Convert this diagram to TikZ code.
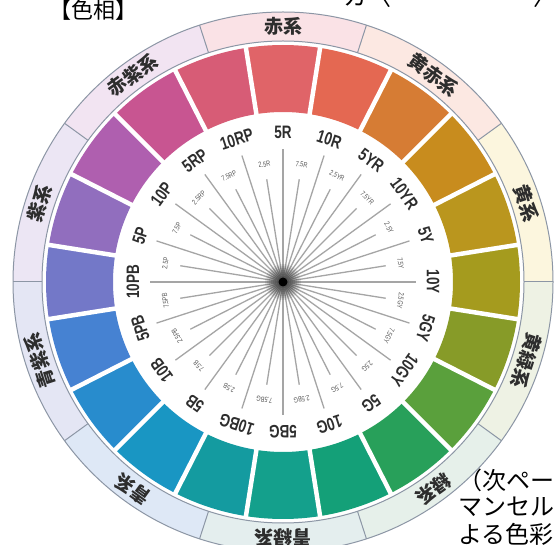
\documentclass[tikz,border=0pt]{standalone}
\usepackage{fontspec}
\setmainfont{Liberation Sans}
\newfontfamily\lblfont[FakeStretch=0.75]{Liberation Sans}
\newfontfamily\jpfont{Noto Sans CJK JP}
\definecolor{rR}{RGB}{250,226,230}
\definecolor{rYR}{RGB}{252,232,226}
\definecolor{rY}{RGB}{252,246,222}
\definecolor{rGY}{RGB}{238,242,228}
\definecolor{rG}{RGB}{230,240,234}
\definecolor{rBG}{RGB}{228,238,238}
\definecolor{rB}{RGB}{222,232,246}
\definecolor{rPB}{RGB}{228,230,244}
\definecolor{rP}{RGB}{236,230,244}
\definecolor{rRP}{RGB}{242,228,242}
\definecolor{c0}{RGB}{224,100,104}
\definecolor{c1}{RGB}{228,104,82}
\definecolor{c2}{RGB}{214,124,52}
\definecolor{c3}{RGB}{200,140,30}
\definecolor{c4}{RGB}{186,150,30}
\definecolor{c5}{RGB}{165,155,30}
\definecolor{c6}{RGB}{135,155,40}
\definecolor{c7}{RGB}{90,160,60}
\definecolor{c8}{RGB}{40,160,90}
\definecolor{c9}{RGB}{20,160,120}
\definecolor{c10}{RGB}{20,160,140}
\definecolor{c11}{RGB}{20,155,160}
\definecolor{c12}{RGB}{25,150,195}
\definecolor{c13}{RGB}{40,140,205}
\definecolor{c14}{RGB}{70,130,210}
\definecolor{c15}{RGB}{115,120,200}
\definecolor{c16}{RGB}{145,110,190}
\definecolor{c17}{RGB}{175,95,175}
\definecolor{c18}{RGB}{200,85,145}
\definecolor{c19}{RGB}{215,92,118}
\definecolor{ringedge}{RGB}{140,150,165}
\definecolor{spoke}{RGB}{165,165,165}
\definecolor{lbl}{RGB}{45,45,45}
\tikzset{
  ringline/.style={draw=ringedge, line width=1pt},
  gapline/.style={draw=white, line width=4.5pt},
  spokeline/.style={draw=spoke, line width=1.3pt},
  biglbl/.style={font=\lblfont\bfseries\fontsize{18}{18}\selectfont, text=lbl, inner sep=0pt},
  smalllbl/.style={font=\lblfont\fontsize{7.5}{7.5}\selectfont, text=lbl!80, inner sep=0pt},
  ringlbl/.style={font=\jpfont\bfseries\fontsize{19}{19}\selectfont, text=lbl, inner sep=0pt},
  jptext/.style={font=\jpfont\fontsize{24}{24}\selectfont, text=black, inner sep=0pt},
  jpline/.style={jptext, anchor=west}
}
\begin{document}
\begin{tikzpicture}[x=1pt,y=1pt]
\useasboundingbox (0,0) rectangle (560,544);
\fill[white] (0,0) rectangle (560,544);
\begin{scope}[shift={(283,262)}]
  % outer hue-family ring
  \foreach \j/\col in {0/rR,1/rYR,2/rY,3/rGY,4/rG,5/rBG,6/rB,7/rPB,8/rP,9/rRP} {
    \pgfmathsetmacro\a{90-36*\j}
    \fill[\col] (\a+18:241) arc[start angle=\a+18, end angle=\a-18, radius=241]
      -- (\a-18:270) arc[start angle=\a-18, end angle=\a+18, radius=270] -- cycle;
  }
  \foreach \j in {0,...,9} {
    \pgfmathsetmacro\a{90-36*\j}
    \draw[ringline] (\a+18:241) -- (\a+18:270);
  }
  \draw[ringline] (0,0) circle (270);
  \draw[ringline] (0,0) circle (241);
  % colour swatches
  \foreach \k in {0,...,19} {
    \pgfmathsetmacro\a{90-18*\k}
    \fill[c\k] (\a+9:170) arc[start angle=\a+9, end angle=\a-9, radius=170]
      -- (\a-9:237) arc[start angle=\a-9, end angle=\a+9, radius=237] -- cycle;
  }
  \foreach \k in {0,...,19} {
    \pgfmathsetmacro\a{90-18*\k+9}
    \draw[gapline] (\a:160) -- (\a:239);
  }
  % spokes
  \foreach \k in {0,...,19} {
    \pgfmathsetmacro\a{90-18*\k}
    \draw[spokeline] (0,0) -- (\a:133);
    \draw[spokeline] (0,0) -- (\a-9:104);
  }
  % centre dot
  \foreach \r in {18,16,...,6} { \fill[black, opacity=0.09] (0,0) circle (\r); }
  \fill[black] (0,0) circle (4.5);
  % ring labels
  \foreach \j/\txt in {0/赤系,1/黄赤系,2/黄系,3/黄緑系,4/緑系,5/青緑系,6/青系,7/青紫系,8/紫系,9/赤紫系} {
    \node[ringlbl, rotate={-36*\j}] (ring\j) at ({90-36*\j}:256) {\txt};
  }
  % hue labels
  \foreach \k/\txt in {0/5R,1/10R,2/5YR,3/10YR,4/5Y,5/10Y,6/5GY,7/10GY,8/5G,9/10G,10/5BG,11/10BG,12/5B,13/10B,14/5PB,15/10PB,16/5P,17/10P,18/5RP,19/10RP} {
    \node[biglbl, rotate={-18*\k}] (L\k) at ({90-18*\k}:150) {\txt};
  }
  \foreach \k/\txt in {0/7.5R,1/2.5YR,2/7.5YR,3/2.5Y,4/7.5Y,5/2.5GY,6/7.5GY,7/2.5G,8/7.5G,9/2.5BG,10/7.5BG,11/2.5B,12/7.5B,13/2.5PB,14/7.5PB,15/2.5P,16/7.5P,17/2.5RP,18/7.5RP,19/2.5R} {
    \node[smalllbl, rotate={-18*\k-9}] (S\k) at ({90-18*\k-9}:119) {\txt};
  }
\end{scope}
% texts
\node[font=\jpfont\fontsize{22}{22}\selectfont, inner sep=0pt] (title) at (93,534) {【色相】};
\node[jptext, anchor=base west] (top1) at (343,538) {カ〈};
\node[jptext, anchor=base west] (top2) at (533,538) {〉};
\node[jpline] (t1) at (458,64) {（次ペー};
\node[jpline] (t2) at (458,37) {マンセル};
\node[jpline] (t3) at (458,10) {よる色彩};
\end{tikzpicture}
\end{document}
